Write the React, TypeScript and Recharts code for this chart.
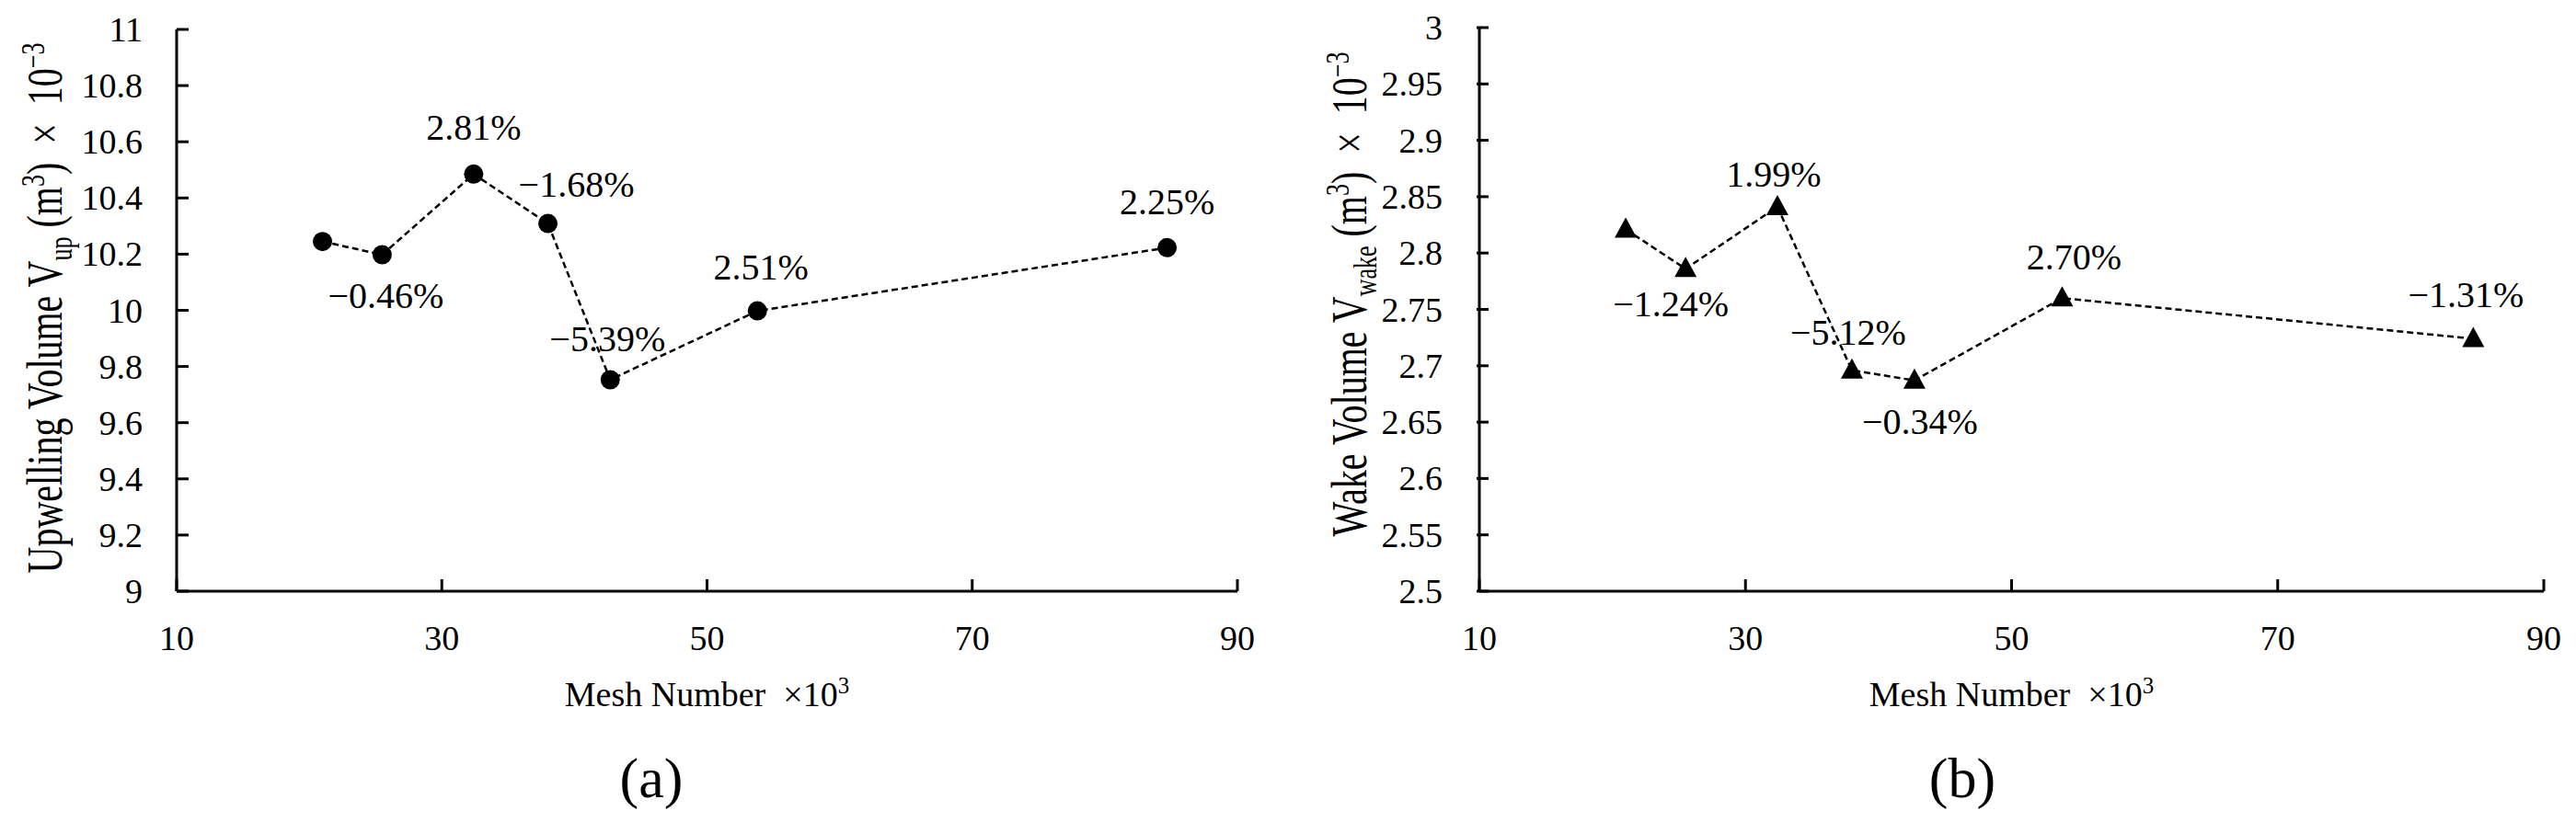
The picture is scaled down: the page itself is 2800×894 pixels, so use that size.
import React from "react";
import { LineChart, Line, XAxis, YAxis, Label } from "recharts";

document.body.style.margin = "0";

// mesh sizes (x10^3) shared by both panels
const meshNumbers = [21, 25.5, 32.4, 38, 42.7, 53.8, 84.7];

// panel (a): upwelling volume (x10^-3 m3)
const upwellingVolume = [10.245, 10.198, 10.485, 10.309, 9.753, 9.998, 10.223];
const upwellingChange = ["", "−0.46%", "2.81%", "−1.68%", "−5.39%", "2.51%", "2.25%"];

// panel (b): wake volume (x10^-3 m3)
const wakeVolume = [2.821, 2.786, 2.841, 2.696, 2.687, 2.76, 2.724];
const wakeChange = ["", "−1.24%", "1.99%", "−5.12%", "−0.34%", "2.70%", "−1.31%"];

const meshTicks = [10, 30, 50, 70, 90];
const upTicks = [9, 9.2, 9.4, 9.6, 9.8, 10, 10.2, 10.4, 10.6, 10.8, 11];
const wakeTicks = [2.5, 2.55, 2.6, 2.65, 2.7, 2.75, 2.8, 2.85, 2.9, 2.95, 3];

// where each percentage sits relative to its point (px)
const upLabelOffsets: [number, number][] = [
  [0, 0], [4, 44], [0, -51], [31, -43], [-3, -44], [4, -48], [0, -50],
];
const wakeLabelOffsets: [number, number][] = [
  [0, 0], [-16, 38], [-4, -35], [-4, -41], [6, 45], [13, -45], [-8, -48],
];

const FONT = "Liberation Serif, Times New Roman, serif";
const serif = { fontFamily: FONT };
const TICK_LEN = 13;
const MARGIN = 37;

const upData = meshNumbers.map((m, i) => ({ mesh: m, volume: upwellingVolume[i] }));
const wakeData = meshNumbers.map((m, i) => ({ mesh: m, volume: wakeVolume[i] }));

function YTick(props: any) {
  const { x, y, payload } = props;
  const ax = x + MARGIN;
  return (
    <g>
      <line x1={ax} x2={ax + TICK_LEN} y1={y} y2={y} stroke="#000" strokeWidth={3} />
      <text x={x} y={y} textAnchor="end" dominantBaseline="central" fontSize={38} style={serif} fill="#000">
        {String(payload.value)}
      </text>
    </g>
  );
}

function XTick(props: any) {
  const { x, y, payload } = props;
  const ay = y - MARGIN;
  return (
    <g>
      <line x1={x} x2={x} y1={ay} y2={ay - TICK_LEN} stroke="#000" strokeWidth={3} />
      <text x={x} y={y + 27} textAnchor="middle" fontSize={38} style={serif} fill="#000">
        {String(payload.value)}
      </text>
    </g>
  );
}

function makeDot(shape: "circle" | "triangle", labels: string[], offsets: [number, number][]) {
  return (props: any) => {
    const { cx, cy, index } = props;
    const [dx, dy] = offsets[index];
    return (
      <g key={"d" + index}>
        {shape === "circle" ? (
          <circle cx={cx} cy={cy} r={10.5} fill="#000" />
        ) : (
          <path d={`M${cx},${cy - 13} L${cx + 12},${cy + 9} L${cx - 12},${cy + 9} Z`} fill="#000" />
        )}
        {labels[index] && (
          <text x={cx + dx} y={cy + dy} textAnchor="middle" dominantBaseline="central" fontSize={40} style={serif} fill="#000">
            {labels[index]}
          </text>
        )}
      </g>
    );
  };
}

function yTitle(name: string, sub: string, baseX: number, centerY: number) {
  return () => (
    <text
      transform={`translate(${baseX},${centerY}) rotate(-90) scale(1,1.35)`}
      textAnchor="middle"
      fontSize={40}
      fill="#000"
      style={{ ...serif, whiteSpace: "pre" }}
    >
      <tspan>{name + " V"}</tspan>
      <tspan fontSize={26} dy={8}>{sub}</tspan>
      <tspan dy={-8}>{" (m"}</tspan>
      <tspan fontSize={26} dy={-14}>3</tspan>
      <tspan dy={14}>{")  ×  10"}</tspan>
      <tspan fontSize={26} dy={-14}>−3</tspan>
    </text>
  );
}

function xTitle(panel: string, panelX: number) {
  return (props: any) => {
    const vb = props.viewBox || {};
    const cx = vb.x + vb.width / 2;
    return (
      <g>
        <text x={cx} y={vb.y + 125} textAnchor="middle" fontSize={38} fill="#000" style={{ ...serif, whiteSpace: "pre" }}>
          <tspan>{"Mesh Number  ×10"}</tspan>
          <tspan fontSize={25} dy={-14}>3</tspan>
        </text>
        <text x={panelX} y={vb.y + 224} textAnchor="middle" fontSize={62} style={serif} fill="#000">
          {panel}
        </text>
      </g>
    );
  };
}

const axisLine = { stroke: "#000", strokeWidth: 3 };

export default function App() {
  return (
    <div style={{ position: "relative", width: 2800, height: 894, background: "#fff", fontFamily: FONT }}>
      <div style={{ position: "absolute", left: 0, top: 0 }}>
        <LineChart width={1400} height={894} data={upData} margin={{ top: 32, right: 55, left: 0, bottom: 0 }}>
          <XAxis
            dataKey="mesh"
            type="number"
            domain={[10, 90]}
            ticks={meshTicks}
            interval={0}
            height={251}
            tickSize={0}
            tickMargin={MARGIN}
            tick={<XTick />}
            axisLine={axisLine}
          >
            <Label content={xTitle("(a)", 708)} />
          </XAxis>
          <YAxis
            type="number"
            domain={[9, 11]}
            ticks={upTicks}
            interval={0}
            width={192}
            tickSize={0}
            tickMargin={MARGIN}
            tick={<YTick />}
            axisLine={axisLine}
          >
            <Label content={yTitle("Upwelling Volume", "up", 67, 335)} />
          </YAxis>
          <Line
            type="linear"
            dataKey="volume"
            stroke="#000"
            strokeWidth={2.5}
            strokeDasharray="7 4"
            dot={makeDot("circle", upwellingChange, upLabelOffsets)}
            activeDot={false}
            isAnimationActive={false}
          />
        </LineChart>
      </div>
      <div style={{ position: "absolute", left: 1400, top: 0 }}>
        <LineChart width={1400} height={894} data={wakeData} margin={{ top: 30, right: 35, left: 0, bottom: 0 }}>
          <XAxis
            dataKey="mesh"
            type="number"
            domain={[10, 90]}
            ticks={meshTicks}
            interval={0}
            height={251}
            tickSize={0}
            tickMargin={MARGIN}
            tick={<XTick />}
            axisLine={axisLine}
          >
            <Label content={xTitle("(b)", 733)} />
          </XAxis>
          <YAxis
            type="number"
            domain={[2.5, 3]}
            ticks={wakeTicks}
            interval={0}
            width={208}
            tickSize={0}
            tickMargin={MARGIN + 3}
            tick={<YTick />}
            axisLine={axisLine}
          >
            <Label content={yTitle("Wake Volume", "wake", 85, 320)} />
          </YAxis>
          <Line
            type="linear"
            dataKey="volume"
            stroke="#000"
            strokeWidth={2.5}
            strokeDasharray="7 4"
            dot={makeDot("triangle", wakeChange, wakeLabelOffsets)}
            activeDot={false}
            isAnimationActive={false}
          />
        </LineChart>
      </div>
    </div>
  );
}
